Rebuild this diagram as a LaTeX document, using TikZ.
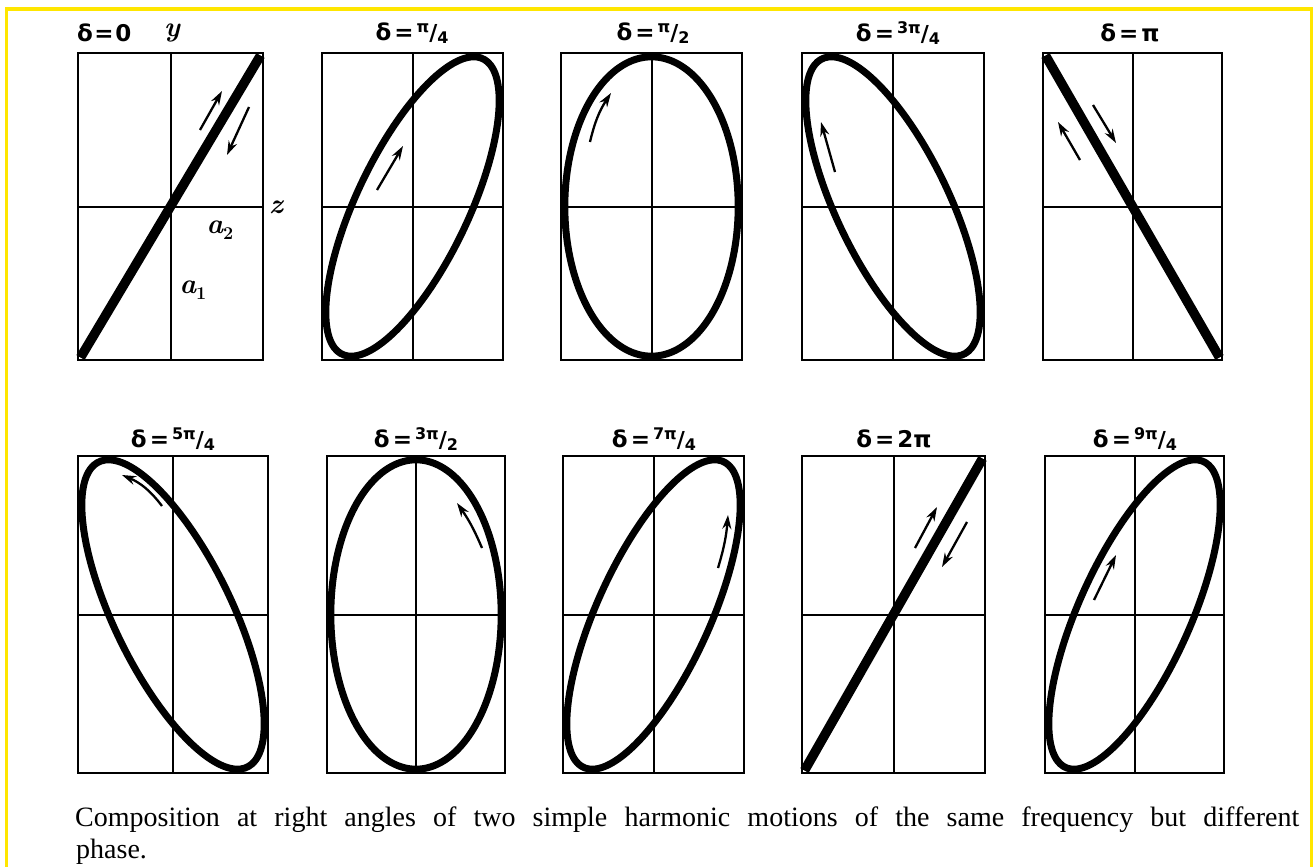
\documentclass[tikz,border=0pt]{standalone}
\usepackage{fontspec}
\usepackage{graphicx}
\newfontfamily\capfont{Liberation Serif}
\newfontfamily\tfont{DejaVu Sans}
\usetikzlibrary{arrows.meta}
\definecolor{frameyellow}{RGB}{255,230,0}

% fraction like  ^{num}/_{den}
\newcommand\fr[2]{\raisebox{7.5pt}{\fontsize{16}{16}\selectfont #1}{\fontsize{22}{22}\selectfont /}\raisebox{-3pt}{\fontsize{16}{16}\selectfont #2}}
\newcommand\dl{δ\kern3pt=\kern3pt}

% left, right, top, bottom, delta (deg): frame, axes and orbit
\newcommand\lispanel[5]{%
  \pgfmathsetmacro\pcx{(#1+#2)/2}%
  \pgfmathsetmacro\pcy{(#3+#4)/2}%
  \pgfmathsetmacro\pra{(#2-#1)/2-3.8}%
  \pgfmathsetmacro\prb{(#4-#3)/2-3.8}%
  \draw[axisline] (\pcx,#3) -- (\pcx,#4);
  \draw[axisline] (#1,\pcy) -- (#2,\pcy);
  \draw[boxline] (#1,#3) rectangle (#2,#4);
  \draw[orbit] plot[smooth cycle, domain=0:356, samples=90]
    ({\pcx+\pra*sin(\x)},{\pcy-\prb*sin(\x+#5)});
}
% left, right, top, bottom : frame and axes only
\newcommand\emptypanel[4]{%
  \pgfmathsetmacro\pcx{(#1+#2)/2}%
  \pgfmathsetmacro\pcy{(#3+#4)/2}%
  \draw[axisline] (\pcx,#3) -- (\pcx,#4);
  \draw[axisline] (#1,\pcy) -- (#2,\pcy);
  \draw[boxline] (#1,#3) rectangle (#2,#4);
}

\begin{document}
\begin{tikzpicture}[x=1pt,y=-1pt,
  boxline/.style={line width=2.6pt, line join=miter},
  axisline/.style={line width=2pt},
  orbit/.style={line width=7pt, line join=round},
  flatline/.style={line width=9.5pt},
  dirarrow/.style={line width=2.3pt, -{Stealth[length=14pt,width=9pt]}},
  title/.style={inner sep=0pt, font=\tfont\bfseries\fontsize{23}{23}\selectfont},
  axlabel/.style={inner sep=0pt, font=\bfseries\itshape\fontsize{28}{28}\selectfont},
  capline/.style={inner sep=0pt, anchor=base west, font=\capfont\fontsize{28}{32}\selectfont}]
\useasboundingbox (0,0) rectangle (1315,867);
\fill[white] (0,0) rectangle (1315,867);
\draw[frameyellow, line width=3.5pt] (6.5,875) -- (6.5,9) -- (1311.5,9) -- (1311.5,875);

% ---------- top row (top 53, bottom 360) ----------
\emptypanel{78}{263}{53}{360}
\draw[flatline] (80.5,357.5) -- (260.5,55.5);
\lispanel{322}{503}{53}{360}{45}
\lispanel{561}{742}{53}{360}{90}
\lispanel{802}{984}{53}{360}{135}
\emptypanel{1043}{1222}{53}{360}
\draw[flatline] (1045.5,55.5) -- (1219.5,357.5);

% ---------- bottom row (top 456, bottom 773) ----------
\lispanel{78}{268}{456}{773}{225}
\lispanel{327}{505}{456}{773}{270}
\lispanel{563}{744}{456}{773}{315}
\emptypanel{802}{985}{456}{773}
\draw[flatline] (804.5,770.5) -- (982.5,458.5);
\lispanel{1045}{1224}{456}{773}{405}

% ---------- titles ----------
\node[title, anchor=west] (t1) at (77,33) {δ\kern1.5pt=\kern1.5pt0};
\node[title] (t2) at (412,33) {\dl\fr{π}{4}};
\node[title] (t3) at (653,33) {\dl\fr{π}{2}};
\node[title] (t4) at (898,33) {\dl\fr{3π}{4}};
\node[title] (t5) at (1130,33) {\dl π};
\node[title] (t6) at (173,439) {\dl\fr{5π}{4}};
\node[title] (t7) at (416,439) {\dl\fr{3π}{2}};
\node[title] (t8) at (654,439) {\dl\fr{7π}{4}};
\node[title] (t9) at (894,439) {\dl 2π};
\node[title] (t10) at (1135,439) {\dl\fr{9π}{4}};

% ---------- axis labels of the first panel ----------
\node[axlabel] (ly) at (172,33) {y};
\node[axlabel] (lz) at (276,207) {z};
\node[axlabel] (la2) at (220,230) {a\raisebox{-6pt}{\upshape\fontsize{18}{18}\selectfont 2}};
\node[axlabel] (la1) at (193,290) {a\raisebox{-6pt}{\upshape\fontsize{18}{18}\selectfont 1}};

% ---------- direction arrows ----------
\coordinate (a1s) at (200,130); \coordinate (a1e) at (222,91);
\coordinate (a2s) at (249,107); \coordinate (a2e) at (227,155);
\coordinate (a3s) at (377,190); \coordinate (a3e) at (403,146);
\coordinate (a4s) at (590,142); \coordinate (a4e) at (611,93);
\coordinate (a5s) at (835,172); \coordinate (a5e) at (821,122);
\coordinate (a6s) at (1080,160); \coordinate (a6e) at (1058,122);
\coordinate (a7s) at (1093,105); \coordinate (a7e) at (1116,143);
\coordinate (b1s) at (162,506); \coordinate (b1e) at (122,475);
\coordinate (b2s) at (482,548); \coordinate (b2e) at (457,503);
\coordinate (b3s) at (718,568); \coordinate (b3e) at (728,515);
\coordinate (b4s) at (915,548); \coordinate (b4e) at (937,507);
\coordinate (b5s) at (967,522); \coordinate (b5e) at (942,567);
\coordinate (b6s) at (1094,600); \coordinate (b6e) at (1116,555);
\draw[dirarrow] (a1s) -- (a1e);
\draw[dirarrow] (a2s) -- (a2e);
\draw[dirarrow] (a3s) -- (a3e);
\draw[dirarrow] (a4s) to[bend left=10] (a4e);
\draw[dirarrow] (a5s) -- (a5e);
\draw[dirarrow] (a6s) -- (a6e);
\draw[dirarrow] (a7s) -- (a7e);
\draw[dirarrow] (b1s) to[bend right=15] (b1e);
\draw[dirarrow] (b2s) to[bend right=6] (b2e);
\draw[dirarrow] (b3s) to[bend right=6] (b3e);
\draw[dirarrow] (b4s) -- (b4e);
\draw[dirarrow] (b5s) -- (b5e);
\draw[dirarrow] (b6s) -- (b6e);

% ---------- caption ----------
\node[capline] (cap1) at (75,826) {\makebox[1224pt][s]{Composition at right angles of two simple harmonic motions of the same frequency but different}};
\node[capline] (cap2) at (76,858) {phase.};
\end{tikzpicture}
\end{document}
